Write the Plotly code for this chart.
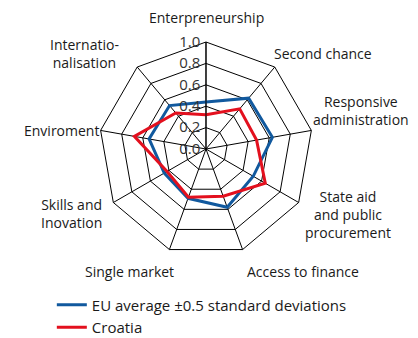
import plotly.graph_objects as go

categories = [
    "Enterpreneurship",
    "Second chance",
    "Responsive<br>administration",
    "State aid<br>and public<br>procurement",
    "Access to finance",
    "Single market",
    "Skills and<br>Inovation",
    "Enviroment",
    "Internatio-<br>nalisation",
]
eu_average = [0.44, 0.62, 0.63, 0.51, 0.58, 0.49, 0.45, 0.54, 0.53]
croatia = [0.32, 0.49, 0.48, 0.64, 0.47, 0.48, 0.42, 0.68, 0.44]
radial_ticks = [0.0, 0.2, 0.4, 0.6, 0.8, 1.0]

# where the category labels sit (pixels from top-left of the 418x338 picture)
label_px = [(206, 17), (323, 53), (361, 110), (348, 214), (303, 271),
            (129, 271), (71, 213), (61, 130), (84, 53)]

fig = go.Figure()
fig.add_trace(go.Scatterpolar(
    r=eu_average + eu_average[:1],
    theta=categories + categories[:1],
    mode="lines",
    line=dict(color="#11599E", width=3),
    name="EU average ±0.5 standard deviations",
))
fig.add_trace(go.Scatterpolar(
    r=croatia + croatia[:1],
    theta=categories + categories[:1],
    mode="lines",
    line=dict(color="#E3101E", width=3),
    name="Croatia",
))

for text, (px_x, px_y) in zip(categories, label_px):
    fig.add_annotation(
        text=text, x=px_x / 418, y=1 - px_y / 338,
        xref="paper", yref="paper", xanchor="center", yanchor="middle",
        showarrow=False, font=dict(size=14, color="#1a1a1a"),
    )

fig.update_layout(
    width=418,
    height=338,
    margin=dict(l=0, r=0, t=0, b=0, autoexpand=False),
    paper_bgcolor="white",
    font=dict(family="Open Sans", size=14, color="#1a1a1a"),
    polar=dict(
        domain=dict(x=[0.2368, 0.7488], y=[0.2426, 0.8757]),
        gridshape="linear",
        bgcolor="white",
        radialaxis=dict(
            range=[0, 1],
            tickvals=radial_ticks,
            ticktext=["%.1f" % v for v in radial_ticks],
            ticksuffix="\u00a0\u00a0",
            angle=90,
            tickangle=90,
            side="counterclockwise",
            showline=True,
            linecolor="black",
            linewidth=1,
            gridcolor="black",
            gridwidth=1,
            ticks="",
            tickfont=dict(size=15, color="#333333"),
        ),
        angularaxis=dict(
            direction="clockwise",
            rotation=90,
            showline=True,
            linecolor="black",
            linewidth=1,
            gridcolor="black",
            gridwidth=1,
            ticks="",
            showticklabels=False,
        ),
    ),
    legend=dict(
        x=0.124,
        y=-0.016,
        xanchor="left",
        yanchor="bottom",
        font=dict(size=15),
        tracegroupgap=0,
        itemwidth=30,
    ),
)

# the page body has a default 8px margin; drop it so the figure fills the window
fig.write_html(
    "out.html",
    config={"displayModeBar": False},
    post_script="document.body.style.margin = '0';",
)
